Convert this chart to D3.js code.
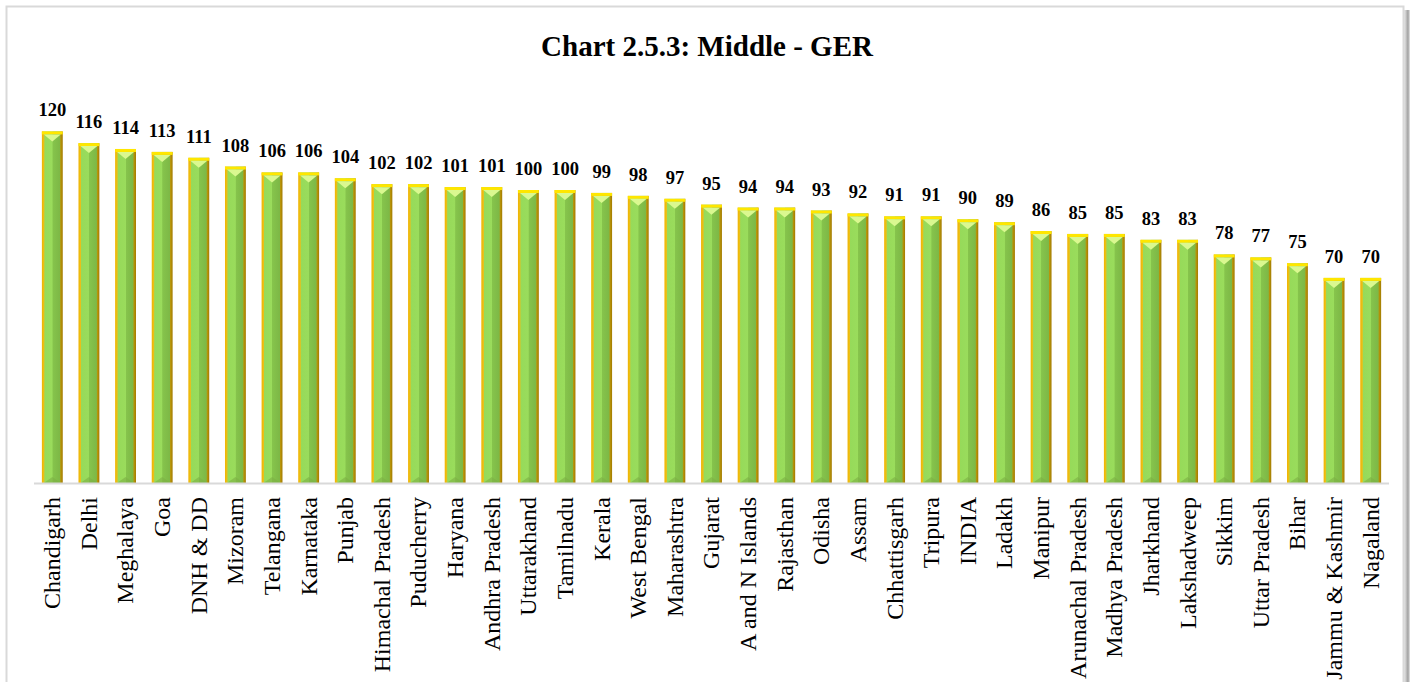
<!DOCTYPE html>
<html><head><meta charset="utf-8">
<script src="https://cdn.jsdelivr.net/npm/d3@7"></script>
<style>body{margin:0;background:#fff;}svg{display:block;}</style>
</head><body>
<script>
const categories = ["Chandigarh","Delhi","Meghalaya","Goa","DNH & DD","Mizoram","Telangana","Karnataka","Punjab","Himachal Pradesh","Puducherry","Haryana","Andhra Pradesh","Uttarakhand","Tamilnadu","Kerala","West Bengal","Maharashtra","Gujarat","A and N Islands","Rajasthan","Odisha","Assam","Chhattisgarh","Tripura","INDIA","Ladakh","Manipur","Arunachal Pradesh","Madhya Pradesh","Jharkhand","Lakshadweep","Sikkim","Uttar Pradesh","Bihar","Jammu & Kashmir","Nagaland"];
const values = [120,116,114,113,111,108,106,106,104,102,102,101,101,100,100,99,98,97,95,94,94,93,92,91,91,90,89,86,85,85,83,83,78,77,75,70,70];
const title = "Chart 2.5.3: Middle - GER";

const W = 1413, H = 682;
const svg = d3.select("body").append("svg").attr("width", W).attr("height", H);
const defs = svg.append("defs");

const body = defs.append("linearGradient").attr("id","barG").attr("x1","0").attr("x2","1").attr("y1","0").attr("y2","0");
[[0,"#F0B400"],[0.1,"#E9C01A"],[0.14,"#96DA5A"],[0.5,"#9ADC5C"],[0.52,"#86C44C"],[0.86,"#7DB846"],[0.9,"#B8960A"],[1,"#A27A00"]]
  .forEach(([o,c])=>body.append("stop").attr("offset",o).attr("stop-color",c));
const shadow = defs.append("linearGradient").attr("id","shG").attr("x1","0").attr("x2","1");
[[0,"#ffffff"],[0.4,"#d6d6d6"],[0.75,"#a0a0a0"],[1,"#e8e8e8"]].forEach(([o,c])=>shadow.append("stop").attr("offset",o).attr("stop-color",c));

// frame
svg.append("rect").attr("x",1402).attr("y",10).attr("width",8).attr("height",H).attr("fill","url(#shG)");
svg.append("rect").attr("x",6.5).attr("y",6.5).attr("width",1397).attr("height",H+10)
  .attr("fill","#fff").attr("stroke","#D9D9D9").attr("stroke-width",2);

svg.append("text").attr("x",707).attr("y",56).attr("text-anchor","middle")
  .attr("font-family","Liberation Serif").attr("font-weight","bold").attr("font-size",29).text(title);

const x = d3.scaleBand().domain(categories).range([34, 1389]).paddingInner(0.43).paddingOuter(0.215);
const y = d3.scaleLinear().domain([0, 140]).range([483, 483 - 140*2.93]);

const g = svg.append("g");
const bars = g.selectAll("g.bar").data(categories).join("g").attr("class","bar");
bars.append("rect")
  .attr("x", d => x(d)).attr("width", x.bandwidth())
  .attr("y", (d,i) => y(values[i])).attr("height", (d,i) => y(0) - y(values[i]))
  .attr("fill","url(#barG)");
bars.append("rect")
  .attr("x", d => x(d)).attr("width", x.bandwidth())
  .attr("y", (d,i) => y(values[i])).attr("height", 3)
  .attr("fill","#FFE600");
bars.append("path")
  .attr("d", (d,i) => {
    const x0 = x(d)+2, x1 = x(d)+x.bandwidth()-2, yt = y(values[i])+3, xm = (x0+x1)/2;
    return `M${x0},${yt}L${x1},${yt}L${xm},${yt+7}Z`;
  })
  .attr("fill","#DAF890");
bars.append("path")
  .attr("d", (d,i) => {
    const x0 = x(d)+2, x1 = x(d)+x.bandwidth()-2, yb = y(0), xm = (x0+x1)/2;
    return `M${x0},${yb}L${x1},${yb}L${xm},${yb-6}Z`;
  })
  .attr("fill","#7BAF45").attr("opacity",0.6);

// baseline
g.append("line").attr("x1",34).attr("x2",1389).attr("y1",483.5).attr("y2",483.5)
  .attr("stroke","#D9D9D9").attr("stroke-width",2);

// value labels
g.selectAll("text.val").data(categories).join("text").attr("class","val")
  .attr("x", d => x(d) + x.bandwidth()/2).attr("y", (d,i) => y(values[i]) - 15)
  .attr("text-anchor","middle").attr("font-family","Liberation Serif").attr("font-weight","bold")
  .attr("font-size",18.5).text((d,i) => values[i]);

// category labels
const xAxis = d3.axisBottom(x).tickSize(0).tickPadding(0);
const ax = g.append("g").attr("transform","translate(0,483)").call(xAxis);
ax.select(".domain").remove();
ax.selectAll("text")
  .attr("font-family","Liberation Serif").attr("font-size",24).attr("fill","#000")
  .attr("text-anchor","end").attr("dy","0.33em")
  .attr("transform","translate(0,14) rotate(-90)").attr("x",0).attr("y",0);
</script>
</body></html>
